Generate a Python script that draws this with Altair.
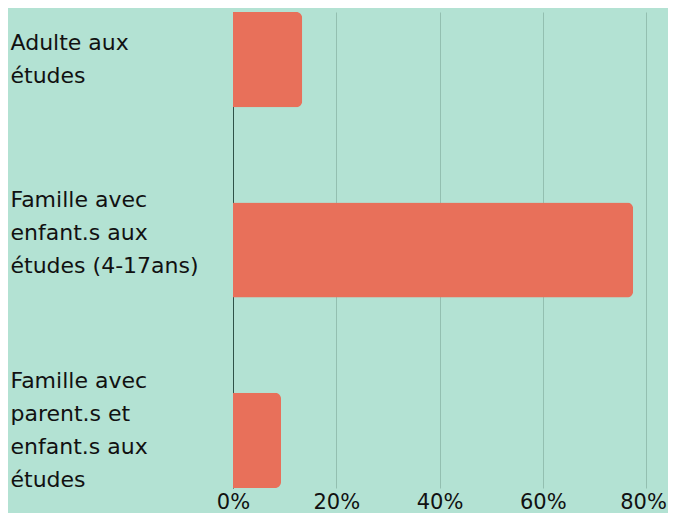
import altair as alt
import pandas as pd

categories = ["Adulte aux études", "Famille avec enfant.s aux études (4-17ans)", "Famille avec parent.s et enfant.s aux études"]
label_lines = ["Adulte aux|études", "Famille avec|enfant.s aux|études (4-17ans)", "Famille avec|parent.s et|enfant.s aux|études"]
values = [13.4, 77.5, 9.3]
tick_values = [0, 20, 40, 60, 80]

df = pd.DataFrame({"cat": label_lines, "pct": values})

FONT = "DejaVu Sans"
BG = "#b3e2d3"

chart = alt.Chart(df).mark_bar(
    color="#e8705a", cornerRadiusTopRight=6, cornerRadiusBottomRight=6
).encode(
    x=alt.X("pct:Q", scale=alt.Scale(domain=[0, 80], nice=False),
            axis=alt.Axis(values=tick_values, labelExpr="datum.value + '%'",
                          title=None, domain=False, ticks=False, grid=True,
                          gridColor="#93bfb0", gridWidth=1,
                          labelFont=FONT, labelFontSize=21, labelColor="#111111",
                          labelPadding=3, labelFlush=False,
                          labelOffset={"condition": {"test": "datum.value == 80", "value": -3},
                                       "value": 0})),
    y=alt.Y("cat:N", sort=label_lines,
            scale=alt.Scale(paddingInner=0.5, paddingOuter=0),
            axis=alt.Axis(title=None, ticks=False, tickSize=0, domain=True,
                          domainColor="#2f5248", domainWidth=1,
                          labelExpr="split(datum.value, '|')",
                          labelAlign="left", labelBaseline="middle",
                          labelPadding=223, labelLimit=0,
                          labelFont=FONT, labelFontSize=22, labelColor="#111111",
                          labelLineHeight=33,
                          labelOffset={"condition": [
                              {"test": "indexof(datum.value, 'Adulte') == 0", "value": -17},
                              {"test": "indexof(datum.value, '4-17') >= 0", "value": -50}],
                              "value": -59})),
).properties(
    width=413, height=476, background=BG,
    padding={"left": 225, "top": 4, "right": 22, "bottom": 25},
    autosize="none",
).configure_view(stroke=None)

chart.save("out.html", embed_options={"renderer": "svg", "actions": False})
